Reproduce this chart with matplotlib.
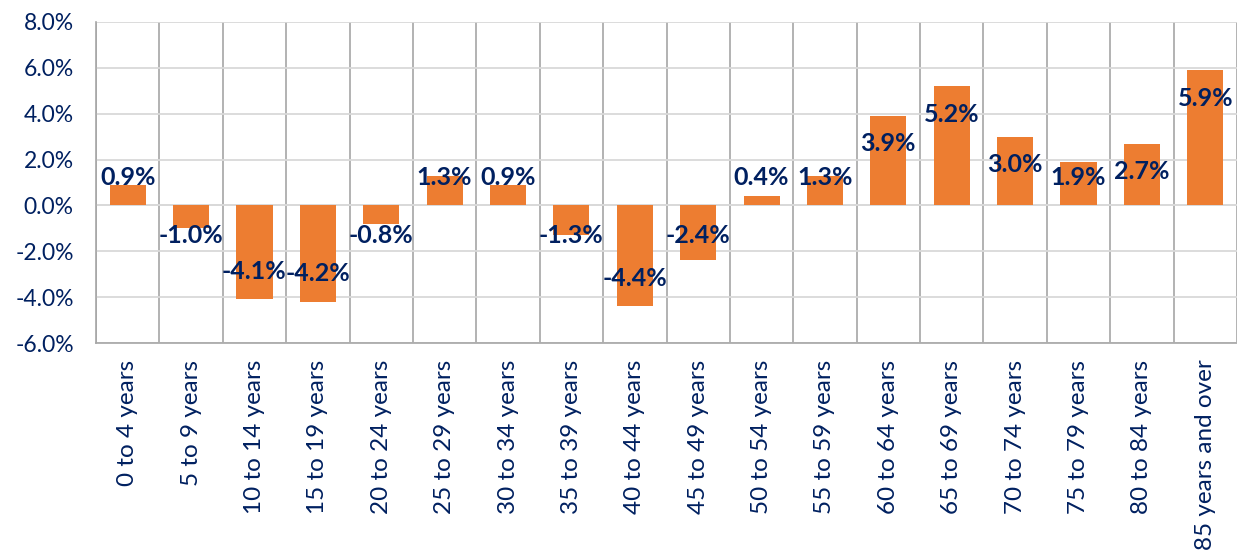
import numpy as np
import matplotlib
matplotlib.use("Agg")
from matplotlib import pyplot as plt
from matplotlib.ticker import FuncFormatter

# ---------- Data
age_groups = ['0 to 4 years', '5 to 9 years', '10 to 14 years', '15 to 19 years',
              '20 to 24 years', '25 to 29 years', '30 to 34 years', '35 to 39 years',
              '40 to 44 years', '45 to 49 years', '50 to 54 years', '55 to 59 years',
              '60 to 64 years', '65 to 69 years', '70 to 74 years', '75 to 79 years',
              '80 to 84 years', '85 years and over']
change_pct = [0.9, -1.0, -4.1, -4.2, -0.8, 1.3, 0.9, -1.3, -4.4, -2.4,
              0.4, 1.3, 3.9, 5.2, 3.0, 1.9, 2.7, 5.9]

navy = '#002060'
orange = '#ED7D31'

plt.rcParams['font.family'] = ['Lato', 'DejaVu Sans']

fig = plt.figure(figsize=(12.37, 5.52), dpi=100)
ax = fig.add_axes([96 / 1237, 1 - 343 / 552, 1 - 96 / 1237, (343 - 22) / 552])

x = np.arange(len(age_groups))
ax.bar(x, change_pct, width=0.57, color=orange, zorder=3)

ax.set_xlim(-0.5, len(age_groups) - 0.5)
ax.set_ylim(-6, 8)
ax.set_yticks(np.arange(-6, 9, 2))
ax.yaxis.set_major_formatter(FuncFormatter(lambda v, p: '{:.1f}%'.format(v)))

# grid: horizontal light, vertical at category boundaries
ax.grid(axis='y', color='#D9D9D9', linewidth=1.3, zorder=0)
for b in np.arange(-0.5, len(age_groups), 1.0):
    ax.axvline(b, color='#A6A6A6', linewidth=1.2, zorder=1)
ax.axhline(0, color='#D9D9D9', linewidth=1.3, zorder=2)

for s in ['top', 'right']:
    ax.spines[s].set_visible(False)
ax.spines['left'].set_color('#A6A6A6')
ax.spines['bottom'].set_color('#A6A6A6')
ax.spines['left'].set_linewidth(1.2)
ax.spines['bottom'].set_linewidth(1.2)

ax.set_xticks(x)
ax.set_xticklabels(age_groups, rotation=90, va='top', ha='center')
ax.tick_params(axis='x', length=0, pad=12, labelsize=17.5, labelcolor=navy)
ax.tick_params(axis='y', length=0, pad=16, labelsize=16.5, labelcolor=navy)

# ---------- Data labels (inside end, kept clear of the zero line)
for xi, v in zip(x, change_pct):
    if v >= 0:
        y = max(v - 1.22, 1.22)
    else:
        y = min(v + 1.22, -1.31)
    ax.text(xi, y, '{:.1f}%'.format(v), ha='center', va='center',
            color=navy, fontsize=18, fontweight='bold', zorder=4)

plt.savefig('out.png', dpi=100)
